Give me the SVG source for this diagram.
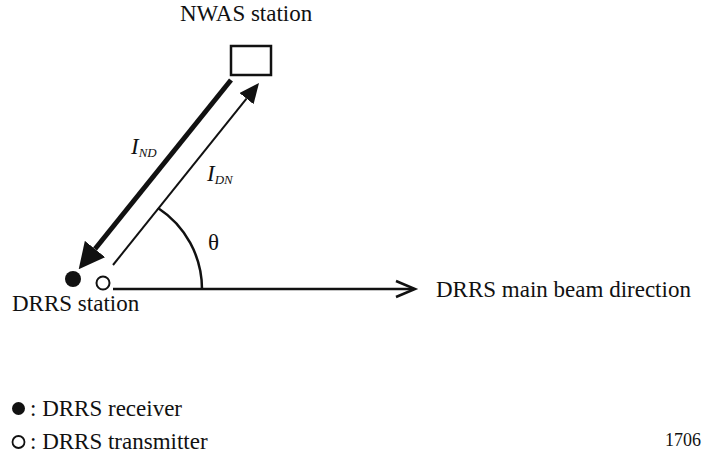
<svg xmlns="http://www.w3.org/2000/svg" width="702" height="461" viewBox="0 0 702 461" font-family="'Liberation Serif', 'Times New Roman', 'DejaVu Serif', serif">
<style>
text{font-family:'Liberation Serif','Times New Roman','DejaVu Serif',serif;fill:#111;font-size:23px}
.it{font-style:italic}
.sub{font-size:13px;font-style:italic}
.ln{stroke:#111;fill:none}
</style>
<defs>
<marker id="thick" viewBox="0 0 26 26" refX="0" refY="13" markerWidth="26" markerHeight="26" markerUnits="userSpaceOnUse" orient="auto">
<path d="M0,0 L26,13 L0,26 z" fill="#111"/>
</marker>
<marker id="thin" viewBox="0 0 20 18" refX="0" refY="9" markerWidth="20" markerHeight="18" markerUnits="userSpaceOnUse" orient="auto">
<path d="M0,0 L20,9 L0,18 z" fill="#111"/>
</marker>
</defs>
<rect width="702" height="461" fill="#fff"/>
<g id="nwas">
<rect x="231" y="46" width="40" height="29" fill="#fff" stroke="#111" stroke-width="2.5"/>
<text x="180" y="21">NWAS station</text>
</g>
<g id="drrs">
<circle cx="73" cy="279" r="8" fill="#111"/>
<circle cx="103" cy="283" r="6.5" fill="#fff" stroke="#111" stroke-width="2"/>
<text x="12" y="311">DRRS station</text>
</g>
<g id="connectors">
<line class="ln" x1="231" y1="80" x2="95" y2="249" stroke-width="5" marker-end="url(#thick)"/>
<line class="ln" x1="113" y1="265" x2="246.5" y2="98.6" stroke-width="2" marker-end="url(#thin)"/>
<line class="ln" x1="113" y1="289" x2="414" y2="289" stroke-width="2.5"/>
<path class="ln" d="M396,281 L415,289 L396,297" stroke-width="2.5"/>
<path class="ln" d="M158,208 A97,97 0 0 1 202,289" stroke-width="2.5"/>
</g>
<g id="labels">
<text class="it" x="131" y="154">I<tspan class="sub" dy="3">ND</tspan></text>
<text class="it" x="207" y="181">I<tspan class="sub" dy="3">DN</tspan></text>
<text x="208" y="250">θ</text>
<text x="436" y="297">DRRS main beam direction</text>
</g>
<g id="legend">
<circle cx="18.5" cy="408.5" r="6.5" fill="#111"/>
<text x="30" y="416">: DRRS receiver</text>
<circle cx="18.5" cy="442" r="6" fill="#fff" stroke="#111" stroke-width="1.8"/>
<text x="30" y="449">: DRRS transmitter</text>
<text x="665" y="446" style="font-size:18px">1706</text>
</g>
</svg>
